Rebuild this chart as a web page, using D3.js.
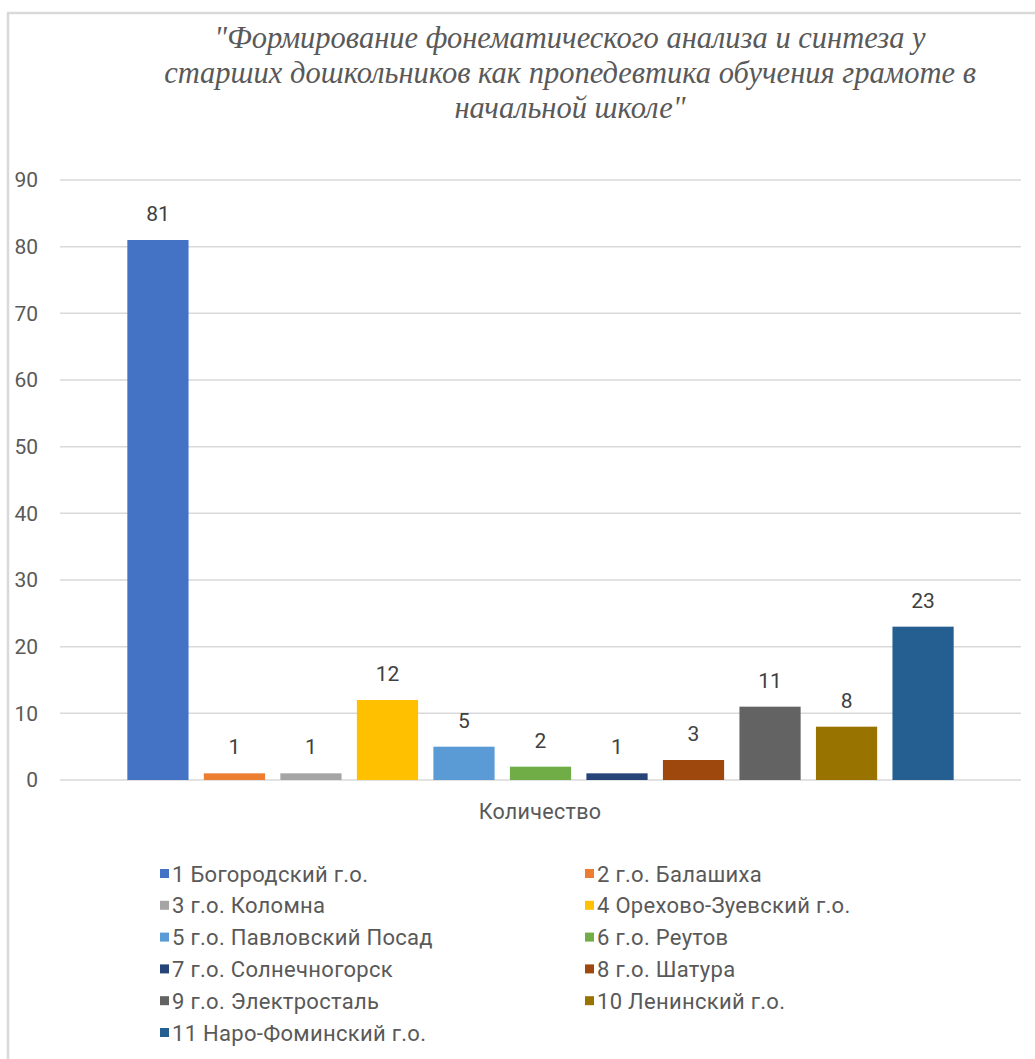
<!DOCTYPE html>
<html>
<head>
<meta charset="utf-8">
<script src="https://cdn.jsdelivr.net/npm/d3@7"></script>
<style>
  body { margin: 0; background: #fff; }
  svg { display: block; }
</style>
</head>
<body>
<svg id="chart" width="1035" height="1059"></svg>
<script>
var titleLines = [
  '"Формирование фонематического анализа и синтеза у',
  'старших дошкольников как пропедевтика обучения грамоте в',
  'начальной школе"'
];
var categoryLabel = 'Количество';
var districts = [
  '1 Богородский г.о.', '2 г.о. Балашиха', '3 г.о. Коломна', '4 Орехово-Зуевский г.о.',
  '5 г.о. Павловский Посад', '6 г.о. Реутов', '7 г.о. Солнечногорск', '8 г.о. Шатура',
  '9 г.о. Электросталь', '10 Ленинский г.о.', '11 Наро-Фоминский г.о.'
];
var counts = [81, 1, 1, 12, 5, 2, 1, 3, 11, 8, 23];
var colors = ['#4472C4', '#ED7D31', '#A5A5A5', '#FFC000', '#5B9BD5', '#70AD47',
              '#264478', '#9E480E', '#636363', '#997300', '#255E91'];
var yTicks = [0, 10, 20, 30, 40, 50, 60, 70, 80, 90];

var svg = d3.select('#chart');
var textColor = '#595959';
var font = 'Roboto, "Noto Sans", sans-serif';

// chart frame
svg.append('path')
  .attr('d', 'M8,1059V13H1035')
  .attr('fill', 'none')
  .attr('stroke', '#d9d9d9')
  .attr('stroke-width', 2.5);

// title
svg.append('g').selectAll('text')
  .data(titleLines)
  .enter().append('text')
    .attr('x', 570)
    .attr('y', function(d, i) { return 48 + i * 35; })
    .attr('text-anchor', 'middle')
    .attr('fill', textColor)
    .style('font-family', '"Liberation Serif", serif')
    .style('font-style', 'italic')
    .style('font-size', '30.5px')
    .text(function(d) { return d; });

var y = d3.scaleLinear().domain([0, 90]).range([780, 180]);
var x = d3.scaleBand().domain(districts).range([60, 1021])
  .paddingInner(0.2).paddingOuter(0.88);

// gridlines
svg.append('g').selectAll('line')
  .data(yTicks)
  .enter().append('line')
    .attr('x1', 60).attr('x2', 1021)
    .attr('y1', function(d) { return y(d); })
    .attr('y2', function(d) { return y(d); })
    .attr('stroke', '#d9d9d9')
    .attr('stroke-width', 1.5);

// y axis labels
var yAxis = d3.axisLeft(y).tickValues(yTicks).tickSize(0).tickPadding(0);
var yg = svg.append('g').attr('transform', 'translate(38,0)').call(yAxis);
yg.select('.domain').remove();
yg.selectAll('text')
  .attr('fill', textColor)
  .style('font-family', font)
  .style('font-size', '21px');

// bars
svg.append('g').selectAll('rect')
  .data(counts)
  .enter().append('rect')
    .attr('x', function(d, i) { return x(districts[i]); })
    .attr('width', x.bandwidth())
    .attr('y', function(d) { return y(d); })
    .attr('height', function(d) { return y(0) - y(d); })
    .attr('fill', function(d, i) { return colors[i]; });

// data labels
svg.append('g').selectAll('text')
  .data(counts)
  .enter().append('text')
    .attr('x', function(d, i) { return x(districts[i]) + x.bandwidth() / 2; })
    .attr('y', function(d) { return y(d) - 19; })
    .attr('text-anchor', 'middle')
    .attr('fill', '#404040')
    .style('font-family', font)
    .style('font-size', '21px')
    .text(function(d) { return d; });

// category label
svg.append('text')
  .attr('x', 540).attr('y', 819)
  .attr('text-anchor', 'middle')
  .attr('fill', textColor)
  .style('font-family', font)
  .style('font-size', '21.5px')
  .style('letter-spacing', '0.3px')
  .text(categoryLabel);

// legend
var legend = svg.append('g').selectAll('g')
  .data(districts)
  .enter().append('g')
    .attr('transform', function(d, i) {
      return 'translate(' + (i % 2 === 0 ? 160 : 585) + ',' + (874 + Math.floor(i / 2) * 31.8) + ')';
    });
legend.append('rect')
  .attr('x', 0).attr('y', -5)
  .attr('width', 9).attr('height', 9)
  .attr('fill', function(d, i) { return colors[i]; });
legend.append('text')
  .attr('x', 12).attr('y', 7.5)
  .attr('fill', textColor)
  .style('font-family', font)
  .style('font-size', '22px')
  .style('letter-spacing', '0.3px')
  .text(function(d) { return d; });
</script>
</body>
</html>
